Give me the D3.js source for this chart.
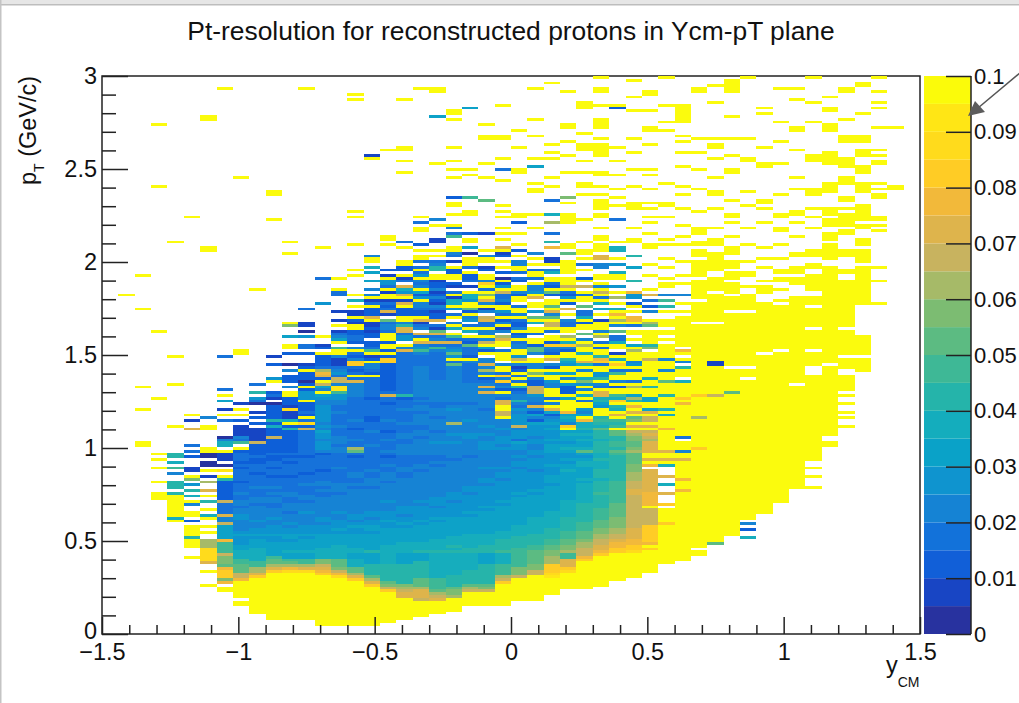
<!DOCTYPE html>
<html><head><meta charset="utf-8">
<script src="https://cdn.jsdelivr.net/npm/d3@7"></script>
<style>html,body{margin:0;padding:0;background:#fff;overflow:hidden}svg{display:block}text{font-family:"Liberation Sans",Arial,sans-serif;fill:#111}</style>
</head><body><svg id="c" width="1019" height="703"></svg>
<script>
const chartTitle = "Pt-resolution for reconstructed protons in Ycm-pT plane";
const xTicks = [-1.5,-1,-0.5,0,0.5,1,1.5];
const yTicks = [0,0.5,1,1.5,2,2.5,3];
const zTicks = [0,0.01,0.02,0.03,0.04,0.05,0.06,0.07,0.08,0.09,0.1];
const zLabels = ["0","0.01","0.02","0.03","0.04","0.05","0.06","0.07","0.08","0.09","0.1"];
const palette = ["#28329f","#1845c4","#115fd8","#1272da","#1583d4","#0f94cf","#0aa2c8","#14adbd","#25b4aa","#3eb896","#5cbb82","#7cbc72","#a6ba68","#c8b35f","#deb44c","#f2b93a","#ffcc25","#ffdb1c","#ffe615","#fbfb0a"];
const levelLetters = "abcdefghijklmnopqrst";
// Tokens: row-row+letter (run), row+letter (single), row=letters (one per row upward, '.' = leave as is).
// A row is a pT bin 0.015 wide; each letter is a resolution level of 0.005; one string per rapidity bin (0.06 wide).
const speckle = ["","","","","","","","","","","","",
"87c 89c 95c",
"86=dcdc.cdetdc.cdb.c",
"82=ddecdtedc.edcdtc.edcb.t.cdb.d",
"90=dct.edbt.cdet.bdtc.etdc.bt.d",
"92=dcet.cdbt.dct.edt.cb.td.etcb.t",
"85=edtcd.tcb.ectd.et.dcb.te.cdt.bt.ed.ctb.de.t",
"100=etdc.tdb.ote.dc.btd.t.cet.dbt.c",
"100=tdct.edb.td.ot.cbe.tdc.tb.et.dct.d",
"100=tedc.tdo.bt.ec.td.bte.t.dc.tb.t.ed.t",
"100=detc.tod.bte.tc.dt.fb.t.ed.t.c.t.d.te",
"100=tdc.etd.otb.te.ct.df.tb.t.de.t.ct.d.t",
"75-96e 79=edtcedfd.tedcteo.det.dctedt.cetd.ot.dbte.tc.dt.e.t.ct.d.e.t",
"75-96e 76=etdcf.tde.tcedt.cdetq.dcte.tdoc.tb.edt.fct.etd.t.cte.t.d.t.c.t",
"75-96f 75=fdte.cftd.etcdte.dtc.etdf.tcq.tdc.et.dte.tc.dt.e.t.ct.d.t.e.t.c.t",
"75-96f 75=etfdt.ecte.dftc.etdt.ect.ftd.te.ctq.dte.t.ct.dt.e.t.ct.d.t.t.e",
"75-96g 75=ftet.dtfe.tct.etdt.fct.et.dtq.te.ct.dt.e.t.tt.c.t.d.t.te.t.t",
"60-100g 74=tgtet.tfte.tct.ftet.dtt.et.ctq.te.tt.dt.e.t.tt.c.t.t.t.te.t",
"60-100h 66=tftgteftt.etft.gtttet.tft.etdt.qtt.ct.tt.e.tt.t.dt.t.tt.t.t.te",
"60-100i 66=tttgtetftt.ettt.gtft.ttet.ftt.dtt.qt.tt.ct.t.tt.e.t.tt.t.t.t",
"60-100j 66=tgtttftt.tttet.ttqt.ttft.tt.ttet.tt.tt.dt.t.tt.t.tt.e.t.t.t",
"60-100t 66=ttttttqttt.tttt.tt.gttt.tt.tt.ftt.t.tt.t.tt.tt.t.t.t",
"60-100t 62=ttttttt.ttttttttgttt.ttt.ttt.tttt.tt.tt.t.tt.tt.t.t",
"60-100t 60=ttttt.ttttttt.ttttt.tttt.tt.ttt.tttt.tt.t.tt.t.tt.t",
"45=tttttttttttttt.ttttttttt.tttttt.ttttt.tttt.ttt.tttt.tt.tt.ttt.t.t.tt"
];
const columns = [
"",
"121t",
"67-68t 80t 88t 116t 128t",
"48-50t 54t 59t 62t 64t 84t 108t 160t 182t",
"40t 41h 42-49t 50i 52-54i 57e 59j 61h 63-64i 74t 89t 99t 140t",
"27t 31-38t 34i 40c 42t 43t 46e 47t 49h 51i 53f 55l 56t 58-59b 63c 65d 67d 73o 76b 78t 149t",
"17t 22t 25o 26-30r 31-33m 36t 38t 41t 42h 44t 47i 49t 51o 54m 56b 58t 60-61a 63-64a 65-66t 73-74t 77e 137-138t 184-185t",
"15-16t 18p 19l 20-22q 23p 24k 25-27l 28n 29-32j 33p 34-38g 39n 40-41e 42o 43-46d 47n 48-54c 55i 56t 58s 60a 62-64b 65t 67h 68h 69e 70a 76d 78t 80b 83g 85t 87d 99d 195t",
"10-11t 13-18t 19p 20-21n 22-24k 25-26j 27-30h 31-36f 37-50e 51g 52-59d 60k 61-65c 66t 68j 69d 70e 71b 72-74b 76c 78t 80t 82b 100-101t 163t",
"7-19t 20q 21o 22-23m 24-25j 26-28h 29-35f 36-48e 49d 50-60c 62h 63-67c 68n 69-73b 75c 77c 79b 82a 83d 84f 86i 89d 123t",
"5-21t 22q 23o 24m 25-26k 27j 28-30g 31-35f 36-48e 49m 50-61c 62o 63-69c 70n 71-73c 74h 75c 76i 77-81c 82a 84b 85d 86c 90t 91f 96c 99b 148t 157-158t",
"5-21t 22r 23p 24m 25k 26j 27-30g 31-34f 35-48d 53o 49-52d 54-70c 73i 71-72c 74c 75t 76h 77-79b 80r 81b 82-84c 85-86t 88e 90c 91-92c 94e 96a 100c 102-103t 106g 110l 111t 136t 140t",
"5-21t 22r 23o 24m 25-26j 27-30g 31-40f 41-52e 53j 54-57d 58j 59-72d 73n 74c 75r 76d 77t 78c 79d 80-82c 83t 84-86f 88t 90a 91c 92-93c 94t 96b 100c 102-103d 106f 108a 110-111b 116d 195t",
"3-20t 21q 22p 23o 24n 25-26l 27-30h 31-38g 39-60e 61-72f 73g 74-80f 81n 82-85g 86t 87e 88g 89n 90t 92o 93p 94m 96-99c 100t 102c 103b 106t 118f 127d 138t",
"3-19t 20r 21p 22n 23l 24-26k 27-30h 31-42g 43-68e 69h 70-73d 74t 75-79d 80-81t 82-85f 86j 87-88s 89e 90-91n 92d 93f 94e 96-98b 100-101t 102j 105g 106e 110t 112b 115b 121-122d 123t 127t",
"3-18t 19q 20o 21m 22-23k 24-26h 27-32g 33-45f 46-64e 65k 66m 67-83d 84j 85-89e 90o 91d 92t 93d 94c 96-97q 98e 100d 101t 102e 104c 106d 108c 109t 111b 113t 115b 117t 119h 121t 128t 130t 139t 149t 151t 191t 193t",
"3-16t 17q 18o 19m 20k 21-24i 25-30g 31-46f 47-84d 84i 85-91d 92t 93c 94d 95-96e 97t 98c 100t 101j 102d 104c 106-107c 108b 109c 110b 112t 113o 114c 115-116c 118d 120t 121e 123e 126g 129g 131h 133t 134t 135e 170t 171b",
"4-14t 15q 16n 17l 18k 19-24i 25-30h 31-50f 51-70e 71-84d 85o 86d 87-96c 97-98q 99c 100t 101c 102-103t 105-107t 108d 109-110e 112k 114b 115o 116d 117c 119b 120-121t 123t 125-126f 128b 130c 139t 141t 142t 173t",
"5-12t 13-14o 15n 16m 17l 18-24i 25-45g 46-60f 61-80e 81-100d 85i 101o 102e 103t 105-106f 107d 108o 110i 112-113t 115-116c 118o 119b 121o 122f 123h 124o 131c 132-133t 138t 140d 165t 169t 173-174t 191t",
"6-11t 12n 13-15o 16m 17-19k 20-25i 26-40g 41-60f 61-95e 96-99d 100=ejfeo 105t 106d 107o 109e 111b 113t 114c 116d 118e 120f 122g 124e 125d 128f 130t 131d 134-135t 137t 139c 144-145t 147d 149t 195t",
"7-11t 12o 13n 14m 15k 16-19j 20-28h 29-46g 47-64f 65-90e 50i 91-100d 101=ejdoe 106d 108k 110d 112o 114c 115b 117e 119c 121c 122b 123e 124c 126b 128t 130-131i 137t 140-141b 146t 148e 168t 185g 194-195t",
"8-12t 13m 14-15l 16k 17-20i 21-30h 31-48g 49-70f 71-95e 75m 96=kdtfk 101f 102=edodj 107t 109h 111e 113t 114d 116f 118-119h 121t 122d 124b 125c 127-128t 130c 131t 133b 135d 137-138t 142j 143d 145e 146t 150t 153-154t 156c 163t 166t 169t 174t 184t 186-187t",
"10-14t 15n 16m 17k 18-22i 23-30h 31-50g 51-60f 61-89e 90-96d 97=etcdd 102=dkcde 106t 108h 110d 112f 114t 116k 117-118t 120-121h 122t 124b 127-128c 131d 133-134t 136a 138g 140-141t 143c 150-151t 156j 164t 166t 188g",
"10-14t 15n 16l 17k 18-24i 25-40g 41-70f 71-78e 76o 79=ednedgeoe 88o 90d 92t 94m 96o 98e 100t 102=gtnet 107e 109t 111d 113n 115e 117t 119o 121l 122t 125q 127t 131b 133-134t 143b 155k 163t 168t 177-178t 182t",
"10-17t 18q 19n 20m 21-24j 25-32h 33-50f 51-65e 66m 67-75e 76d 78n 80t 82o 84d 86t 88e 90q 92q 94t 96e 98-99t 101d 103-104t 106m 108e 110t 112c 114d 116t 118c 120d 122n 124f 127a 129c 131t 133t 136b 138o 141t 143t 145t 149t 151t 153t 162t 166d 170t 177-178t 189t",
"12-19t 20n 21-23l 24-30j 31-40h 41-60f 61-67e 68e 69-70d 72h 74n 75-80f 81m 82e 83-84e 86d 88i 90d 91t 93t 95b 98n 100t 102-103e 104d 105t 108t 110-111c 113t 115t 117d 119t 121c 123t 127d 130t 132e 133e 137c 143t 147c 149t 150t 165-166t 174t 180t",
"12-20t 21-22n 23-24l 25-30k 31-40h 41-60f 61d 62-65e 66k 67-75e 76c 78o 80e 82d 84e 86-88n 90c 92t 93l 95e 97t 100e 101-102k 103c 105t 107d 109t 111h 113k 115f 117t 120o 122f 124e 127d 129t 145t 150t 158-159t 161t 167g 170t 178t 184t 195t",
"14-19t 20s 21r 22-24q 25-27m 28-30l 31k 32-40i 41-49f 50-60g 63t 65g 66-70e 73q 74-77e 78p 81t 83t 86t 88e 90f 91t 94t 96e 98o 100c 102e 104c 106t 108d 110-111n 113k 115o 117k 119t 122k 124c 126t 129h 132t 133-134b 138p 140i 143d 147m 150h 155d 160t 163t 170t 172t 175t 197t",
"16-21t 22r 23q 24-26o 27-30j 31-37i 38k 39-57h 58q 59p 60-64f 65k 67e 70-71p 73t 75e 78-79d 81t 83d 85t 87-88c 91e 92t 94t 96f 98i 100t 102e 104h 106m 108t 110d 112e 114t 116o 118c 120f 122d 124n 126-127t 130-133t 136k 138-139t 147-150t 154t 156l 165t 171t 176t 181-182t 194t",
"16-25t 26q 27p 28-31n 32-35l 36k 37-40l 41-50i 51-59g 60k 61e 63k 65f 67q 69e 71p 73e 74c 76o 78t 80f 83f 85h 87e 90l 92t 94e 97o 99t 101t 103m 105e 107k 109t 111c 113h 115d 117k 119t 121d 124n 127c 130t 132d 134t 136-137t 140t 148t 157t 160-161t 165t 169t 173-175t 179t 188-190t",
"17-27t 28q 29-30p 31o 33n 34-38k 39-44l 45-50k 51-55j 60l 56-59h 61-64i 65i 66t 68p 70n 72p 74d 75f 77l 79d 81h 83e 85o 86o 88d 90t 93f 95t 97q 98p 100t 102d 104d 106m 108e 110t 112b 114t 116g 118h 120d 122n 124e 127-128t 131-132e 134-135o 137-139t 141-142t 145t 149-150t 152-155t 157t 160t 164-165t 171-175t 177t 181-184t 189t 194-195t 199t",
"19-28t 29r 30-34q 35m 36-38m 39-44l 45-47o 48-49k 50k 51m 52-59i 60l 61-67m 68p 70h 72o 74g 76o 78e 80t 82m 84t 86t 88c 90e 92t 94d 96q 98h 100b 102t 104h 106d 108k 110e 112m 114p 116h 118t 120m 122t 124f 127-128t 129h 132f 134t 137-138h 140t 148d 153t 156t 159t 164t 169t 174t 188c 189t",
"20-28t 29-31r 32q 33p 34t 35q 36-41n 42q 43-45j 46-50o 51q 52-56o 57p 58-63o 64t 66-67o 68l 70o 72p 74o 76-77o 79t 81t 84m 86t 88m 90d 92t 94d 97e 99t 101m 103g 105t 107t 110d 112-113p 115t 118c 120-121f 122p 126i 131g 135i 140-141t 145t 152-154t 160t 166t 172t 177t 187t 192t 198t",
"22-29t 30q 31t 32p 33-38q 39-44n 45t 46-50p 51o 52-58o 60p 62o 64t 66o 68-70h 72o 74t 76t 78t 80g 82t 84g 86t 88i 91h 93t 95t 98n 100t 102l 103i 106-108t 110k 111m 115e 117c 119d 121o 123t 128t 132t 138-139t 143t 147t 149t 152t 154t 159t 164t 166t 175t 180-181t 187t 193-194t",
"25-44t 39q 46q 50o 53h 56o 60h 62o 65o 73p 78h 80i 85i 90k 94e 96t 98e 100-102t 105t 110-112t 115t 117i 119j 121e 124-125t 127t 131t 134t 139t 141t 149t 153-154t 161t 180t 183t 189t 199t",
"26-66t 51p 55p 62o 65e 67t 70d 72-80t 82p 84q 86-88t 90h 92t 95i 97e 101p 103t 105-110t 113t 115t 118t 121e 125t 128t 133t 139t 142t 146t 152t 157t 160t 167t 172t 176t 178t 183-189t",
"28-29t 31-110t 66q 77m 85q 112-118t 120-126t 128-133t 135-137t 139-140t 143-145t 151t 159t 166t 172t 177t 194-195t",
"32k 33-110t 85n 96-97b 112-121t 123-127t 130-136t 139-141t 145t 152t 157-158t 163t 170t 174-175t 177t 190t 196t",
"35-94t 86k 96-114t 116-120t 122-125t 127-129t 131-133t 136-138t 142t 147t 149-150t 155t 165-166t 171t 177t 185t 194-198t",
"34h 37c 39e 41-90t 92-94t 96-114t 116-121t 124t 128-129t 133t 139t 145t 153t 158t 169-170t 177t 199-200t",
"43-99t 101-118t 122-124t 126t 131t 134t 138t 147t 152t 154-155t 167-168t 174t 186t 188t",
"47-100t 102-117t 119t 123t 126-127t 129-130t 134t 139t 144-145t 149-150t 157t 168t 176t 183t 195t",
"52-88t 90-120t 125-127t 129-131t 135-136t 142t 147t 150-151t 159t 163t 173t 180-181t 191t 195t",
"52t 56t 59t 62-92t 96-100t 102-108t 110-116t 118-120t 123-128t 131-132t 135-137t 145t 149t 152t 157-159t 169-171t 183t 190t 199t",
"67-68t 71-95t 97-131t 134-139t 141-143t 146-148t 150-152t 158-161t 168-172t 180-182t 187-188t 192t",
"74t 77t 79t 82t 85t 87-92t 95-98t 100-108t 110-126t 129-130t 135-137t 143-144t 146-150t 152t 155-156t 161-163t 167-170t 176-178t 184t 194-195t",
"94-98t 100-106t 118-131t 133-137t 139-141t 145-146t 148-153t 158-161t 165-167t 171-173t 176-178t 186t 196-197t",
"118t 126t 131t 144t 146t 148-149t 156-157t 159t 161t 168-169t 171t 173t 181t 188t 190t 194t 199t",
"159-160t 181t"
];
// Row-by-row reading of the smooth core (pT bins 29 to 64) and of the band just above it (65 to 84).
const coreRows = ["","","","","","","","",
"29=hggfffgfeeeeffeedeeddedddcddddcdcddd",
"29=hhgggfgffeefeeeeedeedddeddddcdddccdc",
"29=ggggffgfffeefeeeddeedededddcddcddccd",
"29=hgggfggffefeeedeeeddeedddddcddddcdcd",
"29=hggggfgfffeeeefeeedeedddedddcdddddcd",
"29=hhgggggfffeffeeeeeeeddedeedddcdddddc 65=efffeffgefefff.ffeef",
"29=hhhggggfgfffeefeeeeeedeeedddddeddddd 65=eedeee.ddeddd.eddee.",
"29=hhgggggffgfeffeeeeeeeeededdeedddddcd 65=..ddedddcdded.dddd.d",
"29=iggggggfggffeffeeeeeeeedeeeddedddddd 65=ddeddddedddccd.ddddc",
"29=hhhggggggffgfffeeefeeeeeedeeeddeddcd 65=edddeddcdddedddddc.d",
"29=hhhhgggggfgffefffeeeeeeeeeeddeedddde 65=eeeddeedddedddd.dddc",
"29=ihhhggggggfgfffffefeeeeeeeeeedeeddde 65=eeeeedeeddeeeed.eded",
"29=ihhhhggggggfgfffefffeeeeeeeeeeededde 65=eeefeeedeeeedeeeddee",
"29=ihihhhgggggggfffffefffeeeeeeeeeeedee 65=eeefeefeeem.eeefedee",
"29=iihhhhhggggggfgffffffeffeeeeeeeeeede 65=eeeeeffeeeefeeeeedee",
"29=iiihhhhggggggggfgfffffffeffeeefeeeee 65=efffeefe.feeee..e.ee",
"29=jiiiihhhgggggggggfgfffffffeffefeeeee 65=.fefffeefeee..n.t.o.",
"29=jjiiiihhhhggggggggggfgffffffffeffefe 65=effg.fffe..ff.e.d.i.",
"29=kjjiiiihhhhhhggggggggfgffffffeffffef 65=feeff.ffffg.egc.o.e.",
"29=lkkjjiiiihhhhhhgggggggggfgggfffgffff 65=.ggfgfffgfgf.c.o.e.d",
"29=mllkkjjjiiiiihhhhhhgggggggggghggfgff 65=ghgfgghg.q.ghgp.t.t.",
"29=nnmmlkkkjjjiiiiiiihhhhhhhghgggghhgfg 65=khgghghgih.p.ge.t.d.",
"29=poonnmmllkkkjjjjiiiiijiiiihiiihhhihh 65=iiiihiiikhiji.t.f.ih",
"29=qqpponnmmllllkkkkkjjjjjjjjiiiiiiiiij 65=kijjiikk.jij.o.hit.h",
"29=rqqppoooonnnnnnnnnnnnoonnnmmmlllkkkk 65=mlkkllmn.o.lk.o.p.i.",
"65=oooomnon.o.nn.o.t.g."
];
const svg = d3.select("#c");
const x = d3.scaleLinear().domain([-1.5,1.5]).range([102,920]);
const y = d3.scaleLinear().domain([0,3]).range([634,76]);
const zY = d3.scaleLinear().domain([0,0.1]).range([634,76]);
const color = d3.scaleQuantize().domain([0,0.1]).range(palette);
const xBin = 0.06, yBin = 0.015, zBin = 0.005;

function parseColumn(str, col){
  const m = new Map();
  ((speckle[col]||"")+" "+str+" "+(coreRows[col]||"")).split(" ").filter(Boolean).forEach(t=>{
    let a;
    if((a=t.match(/^(\d+)-(\d+)([a-t])$/))){ for(let r=+a[1];r<=+a[2];r++) m.set(r,levelLetters.indexOf(a[3])); }
    else if((a=t.match(/^(\d+)=([a-t.]+)$/))){ [...a[2]].forEach((c,k)=>{ if(c!==".") m.set(+a[1]+k,levelLetters.indexOf(c)); }); }
    else if((a=t.match(/^(\d+)([a-t])$/))){ m.set(+a[1],levelLetters.indexOf(a[2])); }
  });
  return [...m].filter(([r])=>r<200).map(([r,l])=>({col,r,z:(l+0.5)*zBin}));
}
const cells = columns.flatMap(parseColumn);

const defs = svg.append("defs");
defs.append("filter").attr("id","soft").attr("filterUnits","userSpaceOnUse").attr("x",90).attr("y",60).attr("width",850).attr("height",590)
  .append("feGaussianBlur").attr("stdDeviation",0.55);

svg.append("rect").attr("width",1019).attr("height",703).attr("fill","#fff");
svg.append("rect").attr("x",0).attr("y",0).attr("width",1019).attr("height",4).attr("fill","#e6e6e6");
svg.append("rect").attr("x",0).attr("y",4).attr("width",1019).attr("height",1.5).attr("fill","#bdbdbd");
svg.append("rect").attr("x",0).attr("y",0).attr("width",1.5).attr("height",703).attr("fill","#c4c4c4");

svg.append("rect").attr("x",102).attr("y",76).attr("width",818).attr("height",558).attr("fill","none").attr("stroke","#222").attr("stroke-width",1.5);

svg.append("g").attr("filter","url(#soft)").attr("shape-rendering","crispEdges").selectAll("rect").data(cells).join("rect")
  .attr("x",d=>x(-1.5+d.col*xBin))
  .attr("width",d=>x(-1.5+(d.col+1)*xBin)-x(-1.5+d.col*xBin))
  .attr("y",d=>y((d.r+1)*yBin))
  .attr("height",d=>y(d.r*yBin)-y((d.r+1)*yBin))
  .attr("fill",d=>color(d.z));

const fmt = v=>String(v).replace("-","\u2212");
const minorX = d3.range(-15,16).map(v=>v/10).filter(v=>!xTicks.includes(v));
const minorY = d3.range(0,31).map(v=>v/10).filter(v=>!yTicks.includes(v));
function styleAxis(g){ g.select(".domain").remove(); g.selectAll("line").attr("stroke","#222").attr("stroke-width",1.5); }
const tickSize = 23.5;
svg.append("g").attr("transform","translate(0,634)").call(d3.axisBottom(x).tickValues(xTicks).tickSize(-17).tickFormat(fmt)).call(styleAxis)
  .call(g=>g.selectAll("text").attr("font-size",tickSize).attr("font-family",null).attr("y",9).attr("dy","0.71em").attr("fill","#111"));
svg.append("g").attr("transform","translate(0,634)").call(d3.axisBottom(x).tickValues(minorX).tickSize(-9).tickFormat("")).call(styleAxis);
svg.append("g").attr("transform","translate(102,0)").call(d3.axisLeft(y).tickValues(yTicks).tickSize(-26).tickFormat(d=>d)).call(styleAxis)
  .call(g=>g.selectAll("text").attr("font-size",tickSize).attr("font-family",null).attr("x",-5).attr("fill","#111").attr("y",d=>d===0?-3:0));
svg.append("g").attr("transform","translate(102,0)").call(d3.axisLeft(y).tickValues(minorY).tickSize(-14).tickFormat("")).call(styleAxis);

svg.append("g").selectAll("rect").data(palette).join("rect")
  .attr("x",924).attr("width",47)
  .attr("y",(d,i)=>zY((i+1)*zBin)).attr("height",(d,i)=>zY(i*zBin)-zY((i+1)*zBin)).attr("fill",d=>d);
svg.append("line").attr("x1",971).attr("x2",971).attr("y1",76).attr("y2",634).attr("stroke","#222").attr("stroke-width",1.5);
svg.append("g").attr("transform","translate(971,0)").call(d3.axisRight(zY).tickValues(zTicks).tickSize(-25).tickFormat((d,i)=>zLabels[i])).call(styleAxis)
  .call(g=>g.selectAll("text").attr("font-size",22).attr("font-family",null).attr("x",3).attr("fill","#111"));

svg.append("line").attr("x1",1021).attr("y1",72).attr("x2",978).attr("y2",108).attr("stroke","#555").attr("stroke-width",1.5);
svg.append("path").attr("d",d3.line()([[968,116],[975,101],[985,112]])+"Z").attr("fill","#5c5c5c");

svg.append("text").attr("x",511).attr("y",40).attr("text-anchor","middle").attr("font-size",26.4).text(chartTitle);
const yt = svg.append("text").attr("transform","translate(36,185) rotate(-90)").attr("font-size",tickSize);
yt.append("tspan").text("p");
yt.append("tspan").attr("font-size",14).attr("dy",8).text("T");
yt.append("tspan").attr("dy",-8).text(" (GeV/c)");
const xt = svg.append("text").attr("x",886).attr("y",673).attr("font-size",tickSize);
xt.append("tspan").text("y");
xt.append("tspan").attr("font-size",14).attr("dy",14).text("CM");
</script></body></html>
